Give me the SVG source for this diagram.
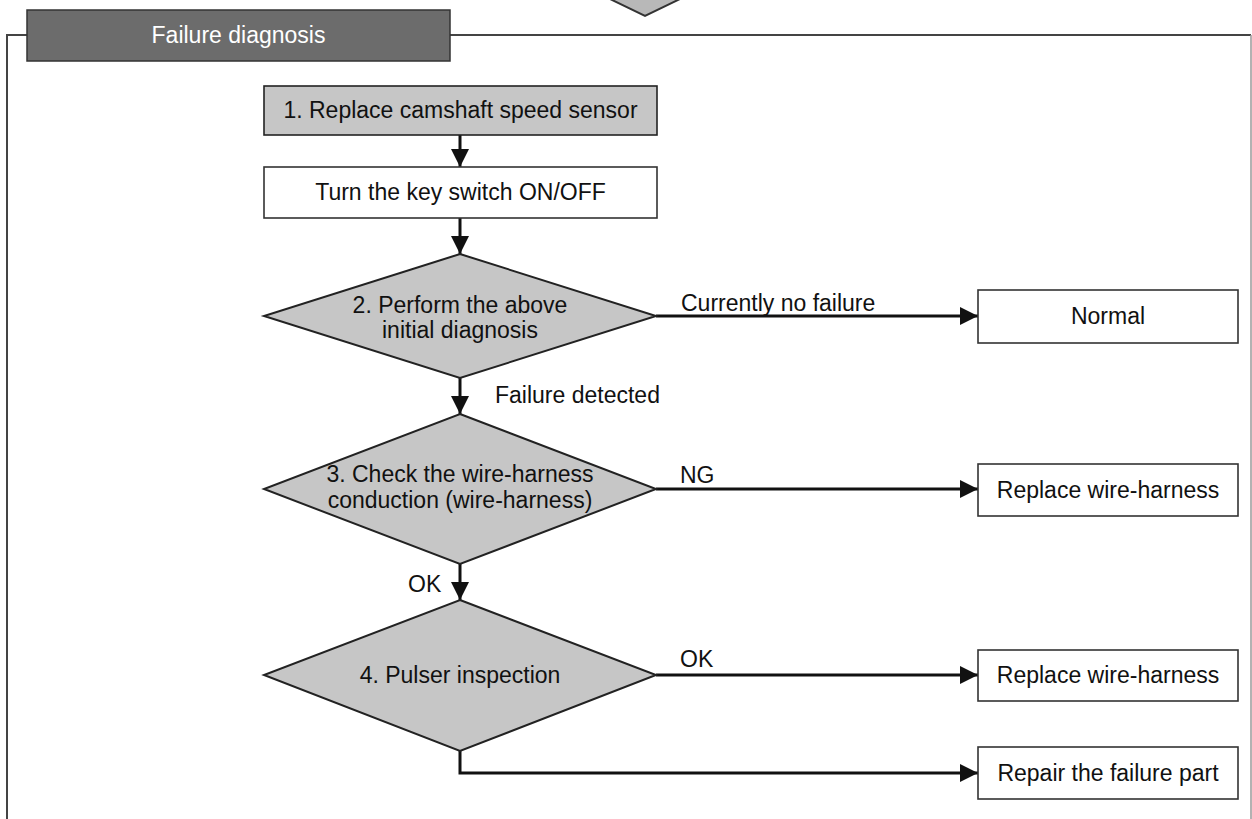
<svg xmlns="http://www.w3.org/2000/svg" width="1252" height="819" viewBox="0 0 1252 819">
  <style>
    text { font-family: "Liberation Sans", Arial, sans-serif; font-size: 23px; fill: #111; }
    .mid { text-anchor: middle; }
    .box { fill: #ffffff; stroke: #333; stroke-width: 1.6; }
    .shade { fill: #c6c6c6; stroke: #222; stroke-width: 2; }
    .conn { fill: none; stroke: #111; stroke-width: 3; }
    .frame { fill: none; stroke: #444; stroke-width: 2; }
  </style>
  <defs>
    <marker id="arrow" markerUnits="userSpaceOnUse" markerWidth="18" markerHeight="18" refX="18" refY="9" orient="auto">
      <path d="M0,0 L18,9 L0,18 z" fill="#111"/>
    </marker>
  </defs>

  <!-- incoming flow arrow from the section above -->
  <polygon points="608,-2 682,-2 645,16" fill="#b8b8b8" stroke="#333" stroke-width="2"/>

  <!-- section frame with its title tab -->
  <g id="frame">
    <path class="frame" d="M27,35 H7 V819"/>
    <path class="frame" d="M450,35 H1251"/>
    <path d="M1251,35 V819" fill="none" stroke="#999" stroke-width="1.5"/>
    <rect x="27" y="10" width="423" height="51" fill="#6c6c6c" stroke="#333" stroke-width="1.5"/>
    <text x="238.5" y="43" class="mid" style="fill:#ffffff">Failure diagnosis</text>
  </g>

  <!-- connectors -->
  <g id="connectors">
    <path class="conn" d="M460,135 V167" marker-end="url(#arrow)"/>
    <path class="conn" d="M460,218 V254" marker-end="url(#arrow)"/>
    <path class="conn" d="M460,378 V414" marker-end="url(#arrow)"/>
    <path class="conn" d="M460,564 V600" marker-end="url(#arrow)"/>
    <path class="conn" d="M656,316 H978" marker-end="url(#arrow)"/>
    <path class="conn" d="M656,489 H978" marker-end="url(#arrow)"/>
    <path class="conn" d="M656,675 H978" marker-end="url(#arrow)"/>
    <path class="conn" d="M460,751 V773 H978" marker-end="url(#arrow)"/>
    <text x="681" y="311">Currently no failure</text>
    <text x="495" y="403">Failure detected</text>
    <text x="680" y="483">NG</text>
    <text x="408" y="592">OK</text>
    <text x="680" y="667">OK</text>
  </g>

  <!-- nodes -->
  <g id="step1">
    <rect class="shade" x="264" y="86" width="393" height="49" style="stroke-width:1.6"/>
    <text x="460.5" y="118" class="mid">1. Replace camshaft speed sensor</text>
  </g>
  <g id="key-switch">
    <rect class="box" x="264" y="167" width="393" height="51"/>
    <text x="460.5" y="200" class="mid">Turn the key switch ON/OFF</text>
  </g>
  <g id="step2">
    <polygon class="shade" points="460,254 656,316 460,378 264,316"/>
    <text x="460" y="313" class="mid">2. Perform the above</text>
    <text x="460" y="338" class="mid">initial diagnosis</text>
  </g>
  <g id="step3">
    <polygon class="shade" points="460,414 656,489 460,564 264,489"/>
    <text x="460" y="482" class="mid">3. Check the wire-harness</text>
    <text x="460" y="508" class="mid">conduction (wire-harness)</text>
  </g>
  <g id="step4">
    <polygon class="shade" points="460,600 656,675 460,751 264,675"/>
    <text x="460" y="683" class="mid">4. Pulser inspection</text>
  </g>
  <g id="normal">
    <rect class="box" x="978" y="290" width="260" height="53"/>
    <text x="1108" y="324" class="mid">Normal</text>
  </g>
  <g id="replace-harness-ng">
    <rect class="box" x="978" y="464" width="260" height="52"/>
    <text x="1108" y="498" class="mid">Replace wire-harness</text>
  </g>
  <g id="replace-harness-ok">
    <rect class="box" x="978" y="650" width="260" height="51"/>
    <text x="1108" y="683" class="mid">Replace wire-harness</text>
  </g>
  <g id="repair">
    <rect class="box" x="978" y="747" width="260" height="52"/>
    <text x="1108" y="781" class="mid">Repair the failure part</text>
  </g>
</svg>
